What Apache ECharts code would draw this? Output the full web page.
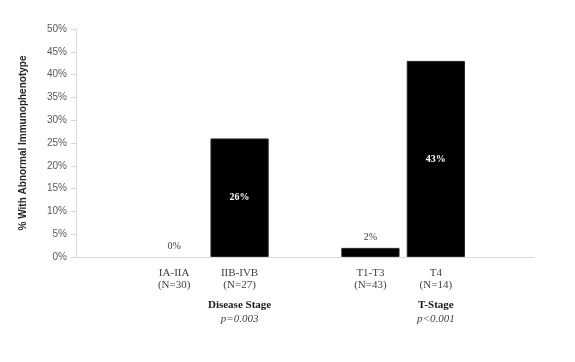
<!DOCTYPE html>
<html>
<head>
<meta charset="utf-8">
<script src="https://cdn.jsdelivr.net/npm/echarts@6/dist/echarts.min.js"></script>
<style>html,body{margin:0;padding:0;background:#fff}#c{width:575px;height:362px}</style>
</head>
<body>
<div id="c"></div>
<script>
var categories = ['', 'IA-IIA\n(N=30)', 'IIB-IVB\n(N=27)', '', 'T1-T3\n(N=43)', 'T4\n(N=14)', ''];
var values = [null, 0, 26, null, 2, 43, null];
var yTicks = [0, 5, 10, 15, 20, 25, 30, 35, 40, 45, 50];
var groupNames = ['Disease Stage', 'T-Stage'];
var groupPvalues = ['p=0.003', 'p<0.001'];
var groupCenters = [1.5, 4.5];

var chart = echarts.init(document.getElementById('c'), null, {renderer: 'canvas'});
var serif = '"Liberation Serif", "DejaVu Serif", serif';
var data = values.map(function (v, i) {
  if (v === null) return null;
  var inside = v > 10;
  return {
    value: v,
    itemStyle: v === 0 ? {borderWidth: 0, color: 'rgba(0,0,0,0)'} : undefined,
    label: {
      show: true,
      position: inside ? 'inside' : 'top',
      distance: 6,
      color: inside ? '#ffffff' : '#404040',
      fontFamily: serif,
      fontWeight: inside ? 'bold' : 'normal',
      fontSize: 10,
      formatter: v + '%'
    }
  };
});
chart.setOption({
  animation: false,
  grid: {left: 76, right: 41, top: 29, bottom: 105},
  xAxis: {
    type: 'category',
    data: categories,
    axisLine: {lineStyle: {color: '#d9d9d9', width: 1}},
    axisTick: {show: false},
    axisLabel: {interval: 0, color: '#404040', fontFamily: serif, fontSize: 11, lineHeight: 12, margin: 10}
  },
  yAxis: {
    type: 'value',
    min: yTicks[0],
    max: yTicks[yTicks.length - 1],
    interval: 5,
    name: '% With Abnormal Immunophenotype',
    nameLocation: 'middle',
    nameRotate: 90,
    nameGap: 48,
    nameTextStyle: {fontWeight: 'bold', fontSize: 10, color: '#262626', fontFamily: '"Liberation Sans Narrow", "Liberation Sans", sans-serif'},
    axisLine: {show: true, lineStyle: {color: '#d9d9d9'}},
    axisTick: {show: true, length: 5, lineStyle: {color: '#d9d9d9'}},
    splitLine: {show: false},
    axisLabel: {color: '#595959', fontSize: 10, margin: 9, fontFamily: '"Liberation Sans", sans-serif', formatter: function (v) { return v + '%'; }}
  },
  series: [{
    type: 'bar',
    data: data,
    barCategoryGap: '11%',
    itemStyle: {color: '#000000', borderColor: '#262626', borderWidth: 1}
  }]
});

var elements = [];
groupCenters.forEach(function (c, i) {
  var x = chart.convertToPixel({xAxisIndex: 0}, c);
  elements.push({
    type: 'text', x: x, y: 305,
    style: {text: groupNames[i], fill: '#1a1a1a', font: 'bold 11px ' + serif, align: 'center', verticalAlign: 'middle'}
  });
  elements.push({
    type: 'text', x: x, y: 319,
    style: {text: groupPvalues[i], fill: '#404040', font: 'italic 11px ' + serif, align: 'center', verticalAlign: 'middle'}
  });
});
chart.setOption({graphic: elements});
</script>
</body>
</html>
